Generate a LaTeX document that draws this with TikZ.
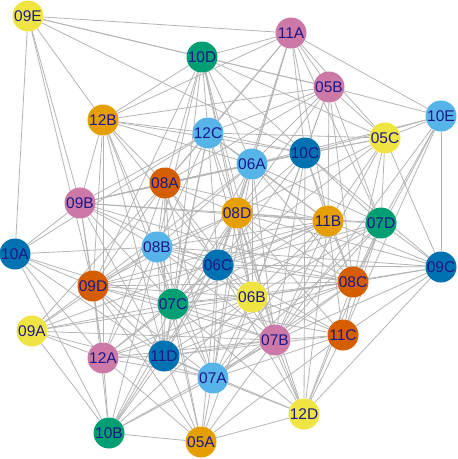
\documentclass[tikz,border=0pt]{standalone}
\usepackage{fontspec}
\setmainfont{Liberation Sans}
\usetikzlibrary{backgrounds}
\definecolor{cyel}{HTML}{F0E442}
\definecolor{cora}{HTML}{E69F00}
\definecolor{csky}{HTML}{56B4E9}
\definecolor{cgrn}{HTML}{009E73}
\definecolor{cblu}{HTML}{0072B2}
\definecolor{cver}{HTML}{D55E00}
\definecolor{cpur}{HTML}{CC79A7}
\definecolor{ctxt}{RGB}{28,24,135}
\definecolor{cedge}{HTML}{B4B4B4}
\tikzset{
  vtx/.style={circle, inner sep=0pt, minimum size=31pt, text=ctxt,
    font=\fontsize{15.5}{16}\selectfont},
  edge/.style={draw=cedge, line width=0.8pt}
}
\begin{document}
\begin{tikzpicture}[x=1pt,y=-1pt]
\useasboundingbox (0,0) rectangle (458,459);
\foreach \n/\x/\y/\c in {
 09E/28/16/cyel, 11A/291/33/cpur, 10D/202/57/cgrn, 05B/329/87/cpur,
 10E/441/116/csky, 12B/103/120/cora, 12C/208/133/csky, 05C/385/138/cyel,
 10C/305/153/cblu, 06A/252/164/csky, 08A/165/183/cver, 09B/80/203/cpur,
 08D/237/213/cora, 11B/328/221/cora, 07D/381/223/cgrn, 10A/15/254/cblu,
 08B/157/247/csky, 06C/218/265/cblu, 09C/441/267/cblu, 09D/93/286/cver,
 08C/353/282/cver, 06B/252/297/cyel, 07C/173/304/cgrn, 09A/32/331/cyel,
 11C/343/335/cver, 07B/275/340/cpur, 12A/103/358/cpur, 11D/164/356/cblu,
 07A/213/378/csky, 12D/304/414/cyel, 10B/109/433/cgrn, 05A/201/442/cora}
 {\node[vtx, fill=\c] (n\n) at (\x,\y) {\n};}
\begin{scope}[on background layer]
\foreach \a/\b in {
 09E/11A,09E/10D,09E/05B,09E/10C,09E/12B,09E/10A,09E/09B,09E/09D,
 11A/10D,11A/10E,11A/05B,11A/05C,11A/12C,11A/06A,11A/08A,11A/10C,11A/11B,11A/08D,11A/06C,11A/07D,11A/12B,
 10D/12B,10D/05B,10D/05C,10D/12C,10D/06A,10D/10C,10D/09D,10D/08A,10D/08B,10D/07C,10D/08D,10D/06B,10D/07B,
 05B/10E,05B/05C,05B/12C,05B/06A,05B/10C,05B/08A,05B/11B,05B/07D,05B/08C,05B/06B,05B/08D,05B/12B,
 10E/05C,10E/10C,10E/06A,10E/07B,10E/07D,10E/11C,10E/09C,10E/08C,
 12B/12C,12B/06A,12B/09B,12B/12A,12B/09D,12B/08B,12B/07C,12B/11D,12B/08A,12B/06C,12B/10C,
 12C/06A,12C/10C,12C/05C,12C/08A,12C/09B,12C/10A,12C/08D,12C/08B,12C/06C,12C/07C,12C/11B,12C/06B,12C/11D,
 05C/10C,05C/06A,05C/11B,05C/07D,05C/08C,05C/09C,05C/08D,05C/06C,05C/07B,
 10C/06A,10C/11B,10C/07D,10C/08D,10C/08A,10C/06C,10C/08C,10C/09C,10C/06B,10C/12D,10C/07B,10C/09B,
 06A/08A,06A/09B,06A/08D,06A/11B,06A/07D,06A/08B,06A/06C,06A/08C,06A/06B,06A/07C,06A/09D,06A/07B,06A/07A,
 08A/09B,08A/08D,08A/08B,08A/06C,08A/09D,08A/07C,08A/11B,08A/06B,08A/12A,08A/11D,08A/07A,08A/09A,
 09B/10A,09B/08B,09B/09D,09B/08D,09B/06C,09B/07C,09B/12A,09B/11D,09B/11B,09B/08C,
 08D/11B,08D/07D,08D/08B,08D/06C,08D/09C,08D/08C,08D/06B,08D/07C,08D/11C,08D/07B,08D/12D,08D/11D,08D/07A,08D/09D,08D/10B,
 11B/07D,11B/08C,11B/06C,11B/06B,11B/07B,11B/11C,11B/12D,11B/09C,11B/08B,11B/07C,11B/09D,11B/07A,11B/09A,
 07D/09C,07D/08C,07D/06B,07D/07B,07D/11C,07D/07C,07D/07A,07D/06C,07D/12D,
 10A/08B,10A/09D,10A/07C,10A/11D,10A/10B,10A/12A,
 08B/06C,08B/09D,08B/07C,08B/06B,08B/08C,08B/07B,08B/12A,08B/11D,08B/07A,08B/09A,08B/10B,08B/05A,08B/09C,
 06C/09D,06C/08C,06C/06B,06C/07C,06C/11C,06C/07B,06C/12A,06C/11D,06C/07A,06C/12D,06C/10B,06C/05A,06C/09C,
 09C/08C,09C/06B,09C/07B,09C/11C,09C/12D,
 09D/07C,09D/12A,09D/11D,09D/07A,09D/09A,09D/10B,09D/06B,09D/08C,09D/07B,09D/05A,
 08C/06B,08C/07C,08C/11C,08C/07B,08C/12D,08C/11D,08C/07A,08C/12A,
 06B/07C,06B/11C,06B/07B,06B/12A,06B/11D,06B/07A,06B/12D,06B/10B,06B/05A,06B/09A,
 07C/12A,07C/11D,07C/07A,07C/07B,07C/11C,07C/12D,07C/10B,07C/05A,07C/09A,
 09A/12A,09A/10B,09A/07A,09A/07B,
 11C/07B,11C/12D,11C/11D,11C/07A,11C/05A,
 07B/12A,07B/11D,07B/07A,07B/12D,07B/10B,07B/05A,
 12A/11D,12A/07A,12A/10B,12A/05A,
 11D/07A,11D/10B,11D/05A,11D/12D,
 07A/12D,07A/05A,07A/10B,
 12D/05A,10B/05A}
 {\draw[edge] (n\a) -- (n\b);}
\end{scope}
\end{tikzpicture}
\end{document}
